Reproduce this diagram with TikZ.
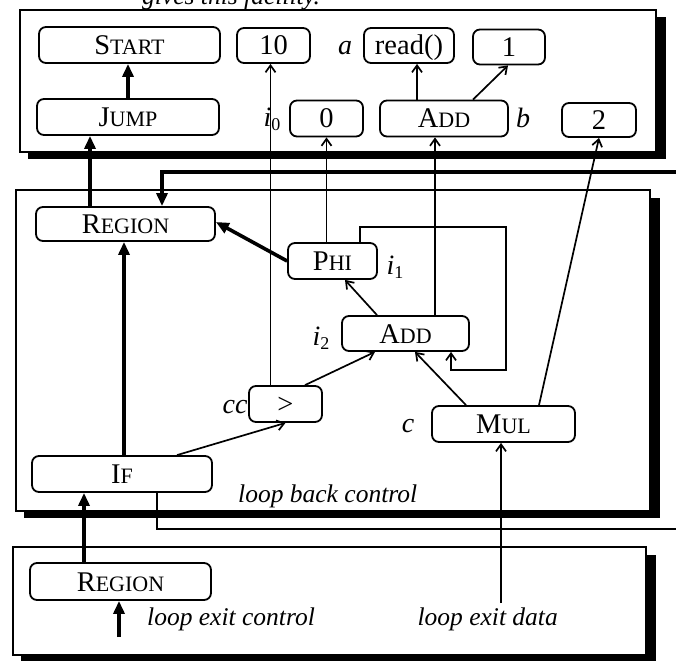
\documentclass[tikz,border=0pt]{standalone}
\usepackage{fontspec}
\setmainfont{Liberation Serif}
\usetikzlibrary{arrows.meta,calc}
\newcommand\fsc[2]{#1{\fontsize{22}{23}\selectfont #2}}
\newcommand\isub[1]{i\raisebox{-4pt}{\fontsize{18}{18}\selectfont\upshape #1}}
\begin{document}
\begin{tikzpicture}[x=1pt,y=-1pt,
  nd/.style={draw, line width=1.8pt, rounded corners=7pt, inner sep=0pt, fill=white,
    font=\fontsize{28.5}{30}\selectfont, text height=19pt, text depth=0pt},
  lbl/.style={font=\fontsize{28}{30}\selectfont\itshape, inner sep=0pt, anchor=base},
  note/.style={font=\fontsize{25.5}{27}\selectfont\itshape, inner sep=0pt, anchor=base west},
  cedge/.style={line width=3.6pt, -{Triangle[length=13pt,width=11pt]}},
  dedge/.style={line width=1.7pt, -{Straight Barb[length=7pt,width=10pt,line width=1.7pt]}},
  boxline/.style={line width=1.8pt, fill=white},
  shadowfill/.style={fill=black}
]
\clip (0,0) rectangle (676,660);
\useasboundingbox (0,0) rectangle (676,660);
\fill[white] (0,0) rectangle (676,660);

% clipped line of text above the picture
\node[note] (toptext) at (142,5) {gives this facility.};

% framed regions with drop shadows
\fill[shadowfill] (28,17) rectangle (666,159);
\draw[boxline] (20,10) rectangle (656,152);
\fill[shadowfill] (24,198) rectangle (660,518);
\draw[boxline] (16,190) rectangle (650,511);
\fill[shadowfill] (21,555) rectangle (656,662);
\draw[boxline] (13,547) rectangle (646,655);

% nodes
\node[nd, minimum width=181pt, minimum height=36pt] (start) at (129.5,45) {\fsc{S}{TART}};
\node[nd, minimum width=182pt, minimum height=36pt] (jump) at (128,117) {\fsc{J}{UMP}};
\node[nd, minimum width=73pt, minimum height=35pt] (ten) at (273.5,45.5) {10};
\node[nd, minimum width=90pt, minimum height=35pt] (read) at (409,45.5) {read()};
\node[nd, minimum width=72pt, minimum height=35pt] (one) at (509,47) {1};
\node[nd, minimum width=73pt, minimum height=36pt] (zero) at (326.5,118.5) {0};
\node[nd, minimum width=128pt, minimum height=36pt] (addtop) at (444,118.5) {\fsc{A}{DD}};
\node[nd, minimum width=74pt, minimum height=34pt] (two) at (599,120) {2};
\node[nd, minimum width=179pt, minimum height=34pt] (regA) at (125.5,224) {\fsc{R}{EGION}};
\node[nd, minimum width=89pt, minimum height=36pt] (phi) at (332.5,261) {\fsc{P}{HI}};
\node[nd, minimum width=127pt, minimum height=35pt] (addmid) at (405.5,333.5) {\fsc{A}{DD}};
\node[nd, minimum width=73pt, minimum height=36pt] (gt) at (285.5,404) {>};
\node[nd, minimum width=143pt, minimum height=36pt] (mul) at (503.5,424) {\fsc{M}{UL}};
\node[nd, minimum width=180pt, minimum height=36pt] (iff) at (122,474) {\fsc{I}{F}};
\node[nd, minimum width=181pt, minimum height=37pt] (regB) at (120.5,581.5) {\fsc{R}{EGION}};

% labels
\node[lbl] (la) at (345,55) {a};
\node[lbl] (lb) at (523,128) {b};
\node[lbl] (li0) at (272,127) {\isub{0}};
\node[lbl] (li1) at (395,274) {\isub{1}};
\node[lbl] (li2) at (321,345) {\isub{2}};
\node[lbl] (lcc) at (235,413) {cc};
\node[lbl] (lc) at (408,432) {c};
\node[note] (nlbc) at (238,502) {loop back control};
\node[note] (nlec) at (147,625) {loop exit control};
\node[note, anchor=base east] (nled) at (558,625) {loop exit data};

% free ends
\coordinate (rin) at (676,172);
\coordinate (lbc) at (676,529);
\coordinate (lec) at (119,637);
\coordinate (led) at (501,603);
\coordinate (lp1) at (506,227);
\coordinate (lp2) at (506,370);

% control edges
\draw[cedge] (jump.north) -- (jump.north |- start.south);
\draw[cedge] ([xshift=-35.5pt]regA.north) -- ([xshift=-35.5pt]regA.north |- jump.south);
\draw[cedge] (rin) -| ([xshift=36.5pt]regA.north);
\draw[cedge] (phi.west) -- ([yshift=2pt]regA.east);
\draw[cedge] ([xshift=2pt]iff.north) -- ([xshift=2pt]iff.north |- regA.south);
\draw[cedge] ([xshift=-36.5pt]regB.north) -- ([xshift=-36.5pt]regB.north |- iff.south);
\draw[cedge] (lec) -- (lec |- regB.south);
\draw[line width=2.3pt] ([xshift=35pt]iff.south) |- (lbc);

% data edges
\draw[dedge] ([xshift=-15pt]gt.north) -- ([xshift=-15pt]gt.north |- ten.south);
\draw[dedge] ([xshift=-6pt]phi.north) -- (zero.south);
\draw[dedge] ([xshift=29.5pt]addmid.north) -- ([xshift=29.5pt]addmid.north |- addtop.south);
\draw[dedge] ([xshift=-27pt]addtop.north) -- ([xshift=-27pt]addtop.north |- read.south);
\draw[dedge] ([xshift=29pt]addtop.north) -- ([xshift=-1pt]one.south);
\draw[dedge] ([xshift=35.5pt]mul.north) -- (two.south);
\draw[dedge] ([xshift=-28.5pt]addmid.north) -- ([xshift=12.5pt]phi.south);
\draw[dedge] ([xshift=19.5pt]gt.north) -- ([xshift=-30.5pt]addmid.south);
\draw[dedge] ([xshift=-37.5pt]mul.north) -- ([xshift=9.5pt]addmid.south);
\draw[dedge] ([xshift=55pt]iff.north) -- (gt.south);
\draw[dedge] ([xshift=27.5pt]phi.north) |- (lp1) -- (lp2) -| ([xshift=45.5pt]addmid.south);
\draw[dedge] (led) -- (led |- mul.south);
\end{tikzpicture}
\end{document}
